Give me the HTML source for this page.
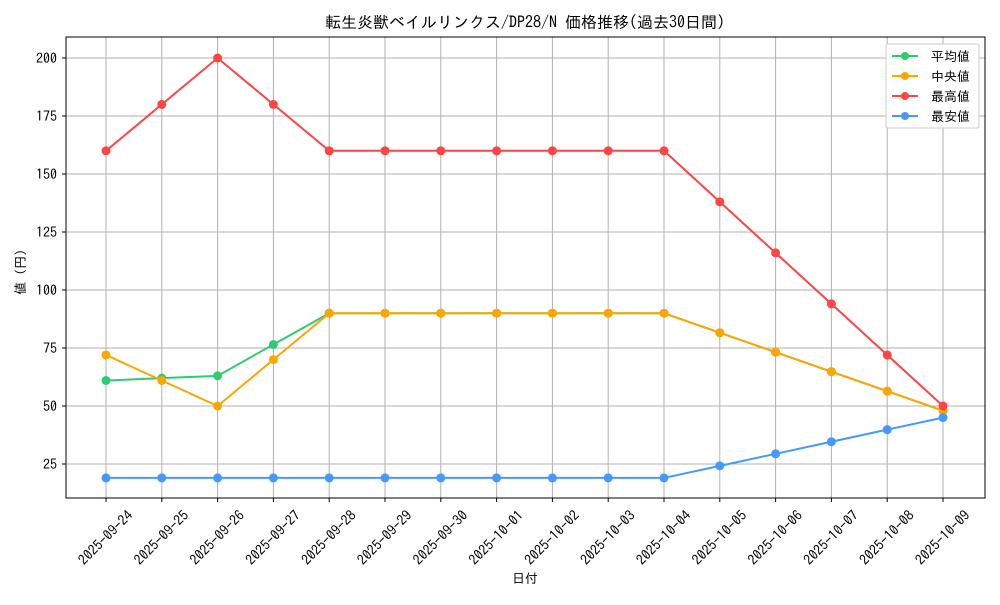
<!DOCTYPE html>
<html><head><meta charset="utf-8"><style>
body{margin:0;background:#fff}
svg text{font-family:"IPAGothic","Noto Sans CJK JP",monospace;fill:#000}
</style></head><body>
<svg width="1000" height="600" viewBox="0 0 1000 600" xmlns="http://www.w3.org/2000/svg">
<rect width="1000" height="600" fill="#fff"/>
<g id="grid" stroke="#b0b0b0" stroke-width="1"></g>
<rect x="66" y="37" width="919" height="461" fill="none" stroke="#000" stroke-width="1"/>
<g id="ticks"></g>
<g id="series"></g>
<text x="525" y="28" font-size="16" text-anchor="middle">転生炎獣ベイルリンクス/DP28/N 価格推移(過去30日間)</text>
<text x="525" y="583" font-size="13" text-anchor="middle">日付</text>
<text transform="translate(25,272) rotate(-90)" font-size="13" text-anchor="middle">値 (円)</text>
<g>
<rect x="886" y="44" width="93" height="84" fill="#fff" stroke="#ccc" rx="2"/>
<line x1="892" y1="56" x2="918" y2="56" stroke="#2ecc71" stroke-width="2"/><circle cx="905" cy="56" r="4" fill="#2ecc71"/><text x="931" y="61" font-size="13">平均値</text>
<line x1="892" y1="76" x2="918" y2="76" stroke="#ffa500" stroke-width="2"/><circle cx="905" cy="76" r="4" fill="#ffa500"/><text x="931" y="81" font-size="13">中央値</text>
<line x1="892" y1="96" x2="918" y2="96" stroke="#ff4444" stroke-width="2"/><circle cx="905" cy="96" r="4" fill="#ff4444"/><text x="931" y="101" font-size="13">最高値</text>
<line x1="892" y1="116" x2="918" y2="116" stroke="#4499ff" stroke-width="2"/><circle cx="905" cy="116" r="4" fill="#4499ff"/><text x="931" y="121" font-size="13">最安値</text>
</g>
</svg>
<script>
const ns="http://www.w3.org/2000/svg";
const X=i=>106+i*55.8, Y=v=>58+(200-v)*2.32;
const dates=["2025-09-24","2025-09-25","2025-09-26","2025-09-27","2025-09-28","2025-09-29","2025-09-30","2025-10-01","2025-10-02","2025-10-03","2025-10-04","2025-10-05","2025-10-06","2025-10-07","2025-10-08","2025-10-09"];
const g=document.getElementById('grid'),t=document.getElementById('ticks'),s=document.getElementById('series');
function el(p,n,a,txt){const e=document.createElementNS(ns,n);for(const k in a)e.setAttribute(k,a[k]);if(txt)e.textContent=txt;p.appendChild(e);return e;}
dates.forEach((d,i)=>{const x=X(i);el(g,'line',{x1:x,x2:x,y1:37,y2:498});el(t,'line',{x1:x,x2:x,y1:498,y2:502,stroke:'#000'});
el(t,'text',{'font-size':14,'text-anchor':'middle',transform:`translate(${x+3},${541}) rotate(-45)`},d);});
for(let v=25;v<=200;v+=25){const y=Y(v);el(g,'line',{x1:66,x2:985,y1:y,y2:y});el(t,'line',{x1:62,x2:66,y1:y,y2:y,stroke:'#000'});
el(t,'text',{x:57,y:y+5,'font-size':14,'text-anchor':'end'},String(v));}
const data=[
["#2ecc71",[61,62,63,76.5,90,90,90,90,90,90,90,81.6,73.2,64.8,56.4,48]],
["#ffa500",[72,61,50,70,90,90,90,90,90,90,90,81.6,73.2,64.8,56.4,48]],
["#ff4444",[160,180,200,180,160,160,160,160,160,160,160,138,116,94,72,50]],
["#4499ff",[19,19,19,19,19,19,19,19,19,19,19,24.2,29.4,34.6,39.8,45]]];
data.forEach(([c,vs])=>{el(s,'polyline',{points:vs.map((v,i)=>X(i)+','+Y(v)).join(' '),fill:'none',stroke:c,'stroke-width':2});
vs.forEach((v,i)=>el(s,'circle',{cx:X(i),cy:Y(v),r:4.5,fill:c}));});
</script>
</body></html>
